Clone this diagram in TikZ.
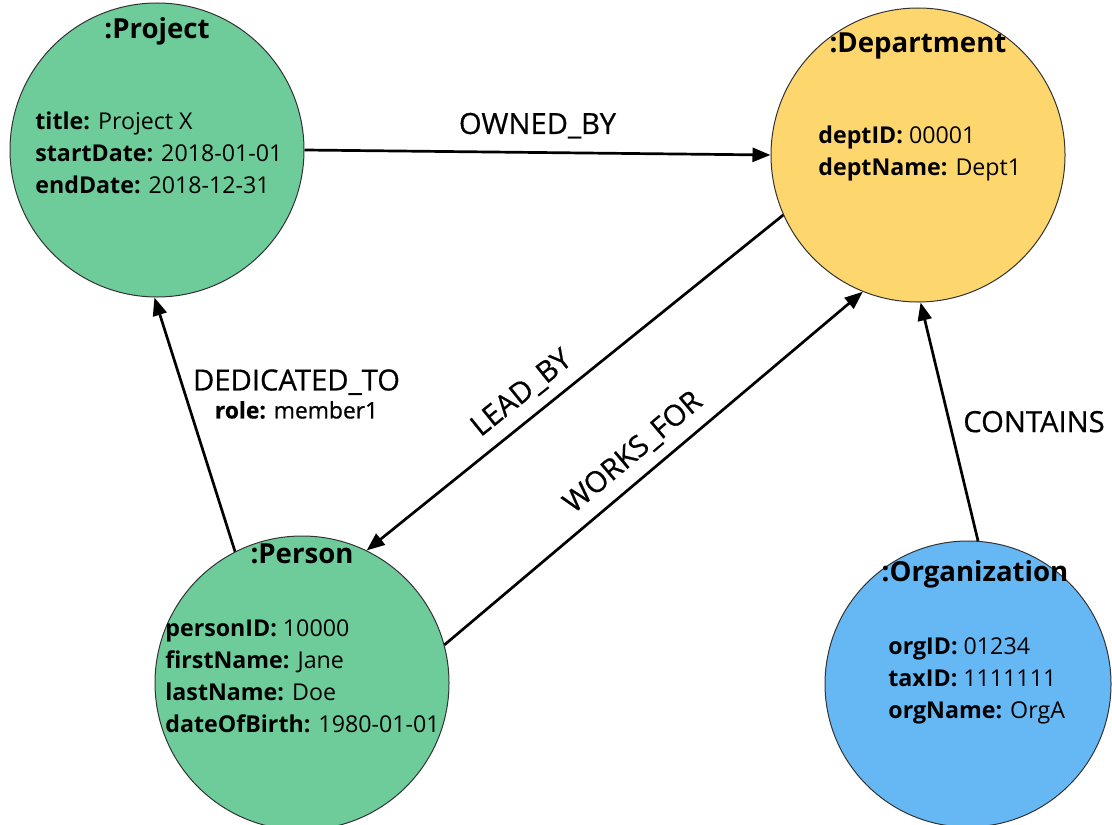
\documentclass[tikz,border=0pt]{standalone}
\usepackage{fontspec}
\setmainfont{Open Sans}
\newfontfamily\relfont{Open Sans}[FakeBold=0.6]
\usepackage{tikz}
\usetikzlibrary{arrows.meta, positioning}

\definecolor{nodegreen}{RGB}{109,204,154}
\definecolor{nodeyellow}{RGB}{253,215,110}
\definecolor{nodeblue}{RGB}{102,184,245}

\begin{document}
\begin{tikzpicture}[
			x=0.5pt, y=-0.5pt,
			>={Triangle[length=9pt, width=7pt]},
			% Style for the entities (circles)
			entity/.style={
				circle,
				draw=black!80,
				line width=0.5pt,
				minimum size=147pt,
				inner sep=0pt
			},
			% Style for the entity label on top
			title/.style={
				font=\fontsize{13.8}{16}\selectfont\bfseries
			},
			% Style for the property lists
			attr/.style={
				anchor=north west,
				align=left,
				inner sep=0pt,
				font=\fontsize{11.6}{16}\selectfont
			},
			% Style for the relationships (arrows)
			relation/.style={
				->,
				line width=1.35pt,
				font=\fontsize{14.6}{17}\relfont
			}
			]
			
			\useasboundingbox (0,0) rectangle (1112,824);
			
			% --- NODES (ENTITIES) ---
			\node[entity, fill=nodegreen] (Project) at (157,150) {};
			\node[entity, fill=nodeyellow] (Dept) at (918,155) {};
			\node[entity, fill=nodegreen] (Person) at (302,683) {};
			\node[entity, fill=nodeblue, minimum size=143pt] (Org) at (968,684) {};
			
			% Entity labels
			\node[title] (ProjectTitle) at (157,31) {:Project};
			\node[title] (DeptTitle) at (918,46) {:Department};
			\node[title] (PersonTitle) at (302,554) {:Person};
			\node[title] (OrgTitle) at (975,574) {:Organization};
			
			% Properties
			\node[attr] (ProjectAttr) at (35,111) {\textbf{title:} Project X\\\textbf{startDate:} 2018-01-01\\\textbf{endDate:} 2018-12-31};
			\node[attr] (DeptAttr) at (818,125) {\textbf{deptID:} 00001\\\textbf{deptName:} Dept1};
			\node[attr] (PersonAttr) at (165,619) {\textbf{personID:} 10000\\\textbf{firstName:} Jane\\\textbf{lastName:} Doe\\\textbf{dateOfBirth:} 1980-01-01};
			\node[attr] (OrgAttr) at (888,637) {\textbf{orgID:} 01234\\\textbf{taxID:} 1111111\\\textbf{orgName:} OrgA};
			
			% --- EDGES (RELATIONSHIPS) ---
			\draw[relation] (Project.east) -- node[midway, above=3pt] {OWNED\_BY} (Dept.west);
			\draw[relation] (Person.117) -- node[pos=0.62, right, align=center] {DEDICATED\_TO\\[-3pt]{\fontsize{11.4}{13}\selectfont\textbf{role:} member1}} (Project.-91);
			\draw[relation] (Dept.204) -- node[pos=0.59, sloped, above=2pt] {LEAD\_BY} (Person.64);
			\draw[relation] (Person.15) -- node[pos=0.49, sloped, above=2pt] {WORKS\_FOR} (Dept.-112);
			\draw[relation] (Org.86) -- node[midway, right=3pt] {CONTAINS} (Dept.-89);
			
		\end{tikzpicture}
\end{document}
